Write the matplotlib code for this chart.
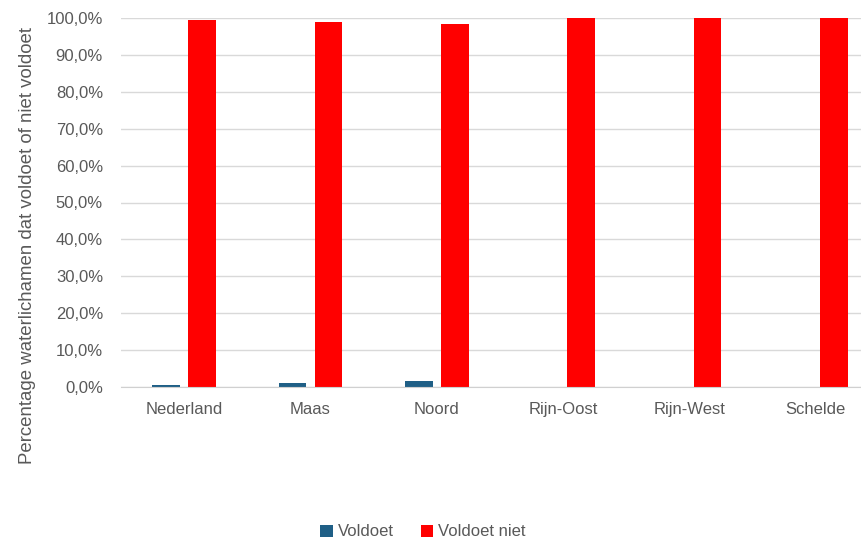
import matplotlib
matplotlib.use("Agg")
import matplotlib.pyplot as plt
import numpy as np
from matplotlib.ticker import FuncFormatter, MultipleLocator

categories = ["Nederland", "Maas", "Noord", "Rijn-Oost", "Rijn-West", "Schelde"]
voldoet = [0.5, 1.2, 1.5, 0.0, 0.0, 0.0]
voldoet_niet = [99.5, 98.8, 98.5, 100.0, 100.0, 100.0]

plt.rcParams['font.family'] = ['Liberation Sans', 'DejaVu Sans']

fig = plt.figure(figsize=(8.61, 5.39), dpi=100)
ax = fig.add_axes([121/861, 1-387/539, 758/861, 369/539])

x = np.arange(len(categories))
w = 0.22
off = 0.142
ax.bar(x - off, voldoet, width=w, color="#1f5f86", label="Voldoet", zorder=3)
ax.bar(x + off, voldoet_niet, width=w, color="#ff0000", label="Voldoet niet", zorder=3)

ax.set_xlim(-0.5, len(categories) - 0.5)
ax.set_ylim(0, 100)
ax.yaxis.set_major_locator(MultipleLocator(10))
ax.yaxis.set_major_formatter(FuncFormatter(lambda v, p: f"{v:.1f}%".replace(".", ",")))
ax.set_xticks(x)
ax.set_xticklabels(categories)
ax.tick_params(axis="both", length=0, labelsize=12, colors="#595959")
ax.tick_params(axis="x", pad=11)
ax.tick_params(axis="y", pad=13)
ax.grid(axis="y", color="#d9d9d9", linewidth=1, zorder=0)
for s in ["top", "right", "left"]:
    ax.spines[s].set_visible(False)
ax.spines["bottom"].set_color("#d0d0d0")
ax.spines["bottom"].set_zorder(4)

fig.text(28/861, 1-245/539, "Percentage waterlichamen dat voldoet of niet voldoet",
         rotation=90, ha="center", va="center", fontsize=13.4, color="#595959")

fig.legend(loc="center", bbox_to_anchor=(423/861, 1-532/539), ncol=2, frameon=False,
           fontsize=12, handlelength=0.75, handleheight=0.75, handletextpad=0.3,
           columnspacing=1.6, labelcolor="#595959", borderpad=0)

fig.savefig("out.png", dpi=100)
